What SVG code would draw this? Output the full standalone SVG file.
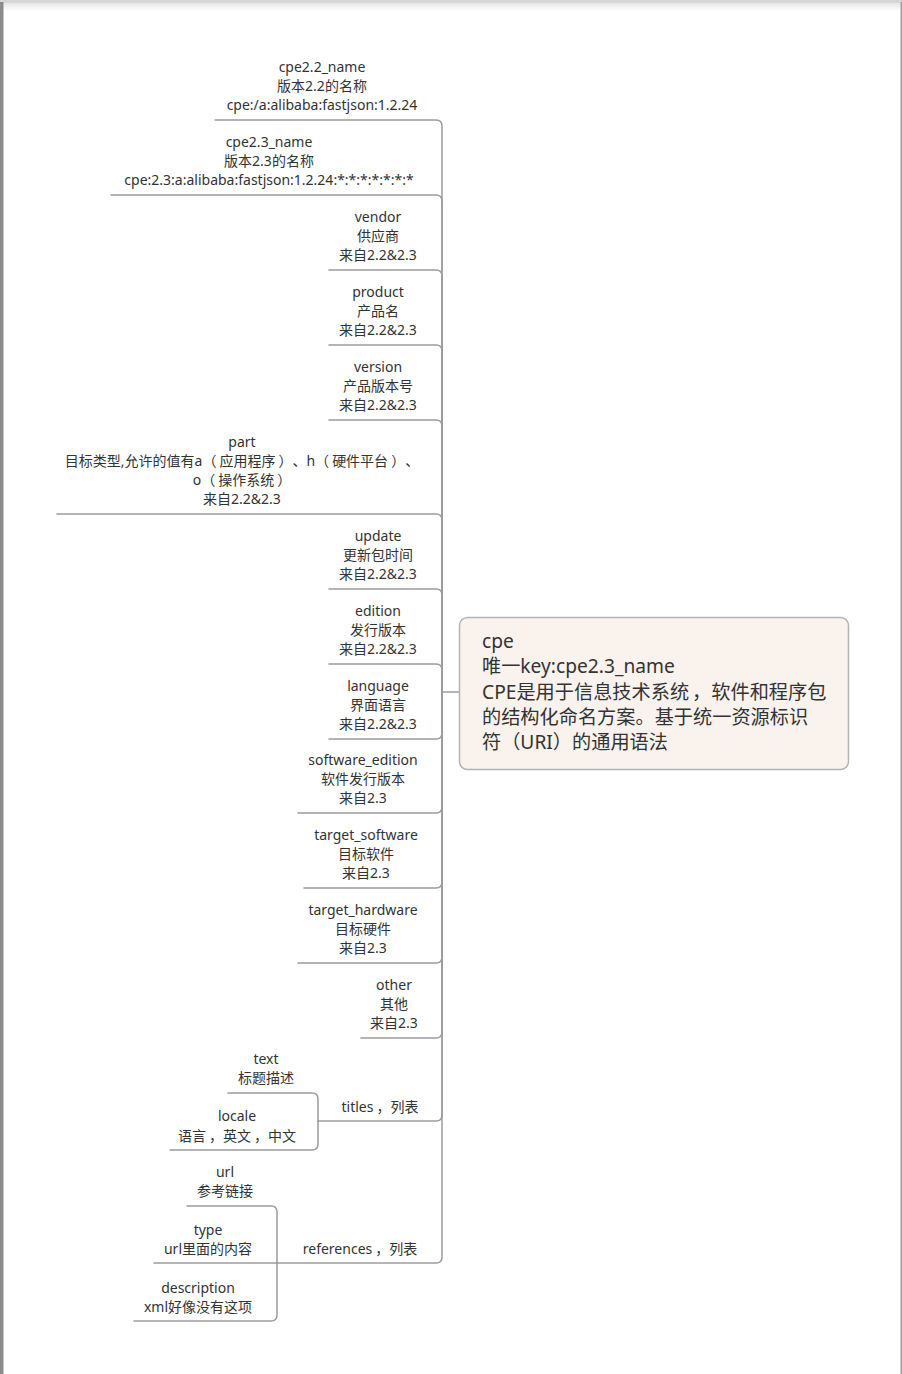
<svg xmlns="http://www.w3.org/2000/svg" width="902" height="1374" viewBox="0 0 902 1374">
  <defs>
    <linearGradient id="topShade" x1="0" y1="0" x2="0" y2="1">
      <stop offset="0" stop-color="#e6e6e6"/>
      <stop offset="1" stop-color="#ffffff"/>
    </linearGradient>
    <style>
      text { text-spacing-trim: space-all; }
      .t { font-family: "Noto Sans", "Open Sans", "Noto Sans CJK SC", sans-serif; font-size: 14px; fill: #333; text-anchor: middle; }
      .r { font-family: "Noto Sans", "Open Sans", "Noto Sans CJK SC", sans-serif; font-size: 19.2px; fill: #333; }
      .ln { fill: none; stroke: #9c9c9c; stroke-width: 1.5; stroke-linecap: round; }
    </style>
  </defs>

  <!-- page frame -->
  <rect x="0" y="0" width="902" height="1374" fill="#ffffff"/>
  <rect x="0" y="0" width="902" height="3" fill="#d6d6d6"/>
  <rect x="0" y="3" width="902" height="8" fill="url(#topShade)"/>
  <rect x="0" y="2" width="3.5" height="1372" fill="#8c8c8c"/>
  <rect x="900.5" y="2" width="1.5" height="1372" fill="#a0a0a0"/>

  <!-- connectors -->
  <g id="connectors">
    <path class="ln" d="M459 692 H442 V126 Q442 120 436 120 H215"/>
    <path class="ln" d="M442 692 V201 Q442 195 436 195 H111"/>
    <path class="ln" d="M442 692 V276 Q442 270 436 270 H329"/>
    <path class="ln" d="M442 692 V351 Q442 345 436 345 H329"/>
    <path class="ln" d="M442 692 V426 Q442 420 436 420 H329"/>
    <path class="ln" d="M442 692 V520 Q442 514 436 514 H57"/>
    <path class="ln" d="M442 692 V595 Q442 589 436 589 H329"/>
    <path class="ln" d="M442 692 V670 Q442 664 436 664 H329"/>
    <path class="ln" d="M442 692 V733 Q442 739 436 739 H329"/>
    <path class="ln" d="M442 692 V807 Q442 813 436 813 H298"/>
    <path class="ln" d="M442 692 V882 Q442 888 436 888 H304"/>
    <path class="ln" d="M442 692 V957 Q442 963 436 963 H298"/>
    <path class="ln" d="M442 692 V1032 Q442 1038 436 1038 H361"/>
    <path class="ln" d="M442 692 V1115 Q442 1121 436 1121 H318"/>
    <path class="ln" d="M442 692 V1257 Q442 1263 436 1263 H277"/>
    <!-- titles children -->
    <path class="ln" d="M318 1121 V1099 Q318 1093 312 1093 H228"/>
    <path class="ln" d="M318 1121 V1144 Q318 1150 312 1150 H170"/>
    <!-- references children -->
    <path class="ln" d="M277 1263 V1212 Q277 1206 271 1206 H187"/>
    <path class="ln" d="M277 1263 H154"/>
    <path class="ln" d="M277 1263 V1315 Q277 1321 271 1321 H134"/>
  </g>

  <!-- root -->
  <g id="cpe">
    <rect x="459.5" y="617.5" width="389" height="152" rx="8" fill="#f9f2ed" stroke="#b3b3b3" stroke-width="1.5"/>
    <text class="r" x="482" y="648">cpe</text>
    <text class="r" x="482" y="673">唯一key:cpe2.3_name</text>
    <text class="r" x="482" y="699">CPE是用于信息技术系统<tspan dx="3">，</tspan>软件和程序包</text>
    <text class="r" x="482" y="724">的结构化命名方案。基于统一资源标识</text>
    <text class="r" x="482" y="749">符（URI）的通用语法</text>
  </g>

  <g id="cpe22_name">
    <text class="t" x="322" y="72">cpe2.2_name</text>
    <text class="t" x="322" y="91">版本2.2的名称</text>
    <text class="t" x="322" y="110">cpe:/a:alibaba:fastjson:1.2.24</text>
  </g>
  <g id="cpe23_name">
    <text class="t" x="269" y="147">cpe2.3_name</text>
    <text class="t" x="269" y="166">版本2.3的名称</text>
    <text class="t" x="269" y="185">cpe:2.3:a:alibaba:fastjson:1.2.24:*:*:*:*:*:*:*</text>
  </g>
  <g id="vendor">
    <text class="t" x="378" y="222">vendor</text>
    <text class="t" x="378" y="241">供应商</text>
    <text class="t" x="378" y="260">来自2.2&amp;2.3</text>
  </g>
  <g id="product">
    <text class="t" x="378" y="297">product</text>
    <text class="t" x="378" y="316">产品名</text>
    <text class="t" x="378" y="335">来自2.2&amp;2.3</text>
  </g>
  <g id="version">
    <text class="t" x="378" y="372">version</text>
    <text class="t" x="378" y="391">产品版本号</text>
    <text class="t" x="378" y="410">来自2.2&amp;2.3</text>
  </g>
  <g id="part">
    <text class="t" x="242" y="447">part</text>
    <text class="t" x="242" y="466">目标类型,允许的值有a（<tspan dx="3">应用程序</tspan><tspan dx="3">）</tspan>、h（<tspan dx="3">硬件平台</tspan><tspan dx="3">）</tspan>、</text>
    <text class="t" x="242" y="485">o（<tspan dx="3">操作系统</tspan><tspan dx="3">）</tspan></text>
    <text class="t" x="242" y="504">来自2.2&amp;2.3</text>
  </g>
  <g id="update">
    <text class="t" x="378" y="541">update</text>
    <text class="t" x="378" y="560">更新包时间</text>
    <text class="t" x="378" y="579">来自2.2&amp;2.3</text>
  </g>
  <g id="edition">
    <text class="t" x="378" y="616">edition</text>
    <text class="t" x="378" y="635">发行版本</text>
    <text class="t" x="378" y="654">来自2.2&amp;2.3</text>
  </g>
  <g id="language">
    <text class="t" x="378" y="691">language</text>
    <text class="t" x="378" y="710">界面语言</text>
    <text class="t" x="378" y="729">来自2.2&amp;2.3</text>
  </g>
  <g id="software_edition">
    <text class="t" x="363" y="765">software_edition</text>
    <text class="t" x="363" y="784">软件发行版本</text>
    <text class="t" x="363" y="803">来自2.3</text>
  </g>
  <g id="target_software">
    <text class="t" x="366" y="840">target_software</text>
    <text class="t" x="366" y="859">目标软件</text>
    <text class="t" x="366" y="878">来自2.3</text>
  </g>
  <g id="target_hardware">
    <text class="t" x="363" y="915">target_hardware</text>
    <text class="t" x="363" y="934">目标硬件</text>
    <text class="t" x="363" y="953">来自2.3</text>
  </g>
  <g id="other">
    <text class="t" x="394" y="990">other</text>
    <text class="t" x="394" y="1009">其他</text>
    <text class="t" x="394" y="1028">来自2.3</text>
  </g>
  <g id="titles">
    <text class="t" x="380" y="1112">titles<tspan dx="3">，</tspan>列表</text>
  </g>
  <g id="titles_text">
    <text class="t" x="266" y="1064">text</text>
    <text class="t" x="266" y="1083">标题描述</text>
  </g>
  <g id="titles_locale">
    <text class="t" x="237" y="1121">locale</text>
    <text class="t" x="237" y="1141">语言<tspan dx="3">，</tspan>英文<tspan dx="3">，</tspan>中文</text>
  </g>
  <g id="references">
    <text class="t" x="360" y="1254">references<tspan dx="3">，</tspan>列表</text>
  </g>
  <g id="ref_url">
    <text class="t" x="225" y="1177">url</text>
    <text class="t" x="225" y="1196">参考链接</text>
  </g>
  <g id="ref_type">
    <text class="t" x="208" y="1235">type</text>
    <text class="t" x="208" y="1254">url里面的内容</text>
  </g>
  <g id="ref_description">
    <text class="t" x="198" y="1293">description</text>
    <text class="t" x="198" y="1312">xml好像没有这项</text>
  </g>
</svg>
